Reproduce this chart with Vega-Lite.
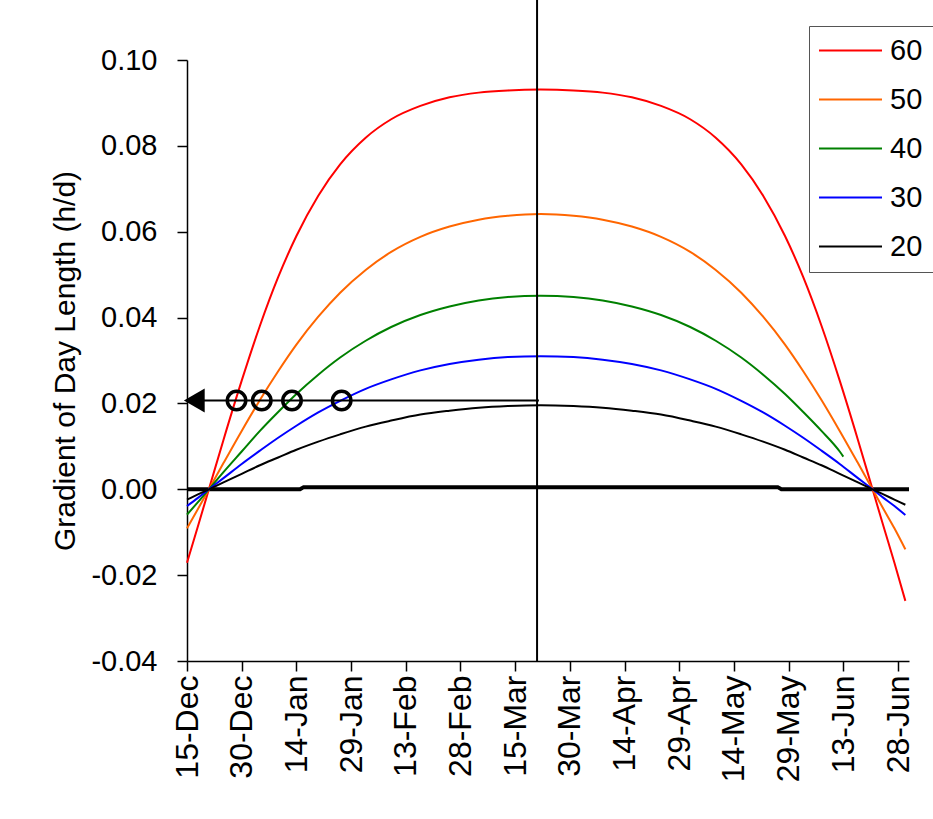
{
  "$schema": "https://vega.github.io/schema/vega-lite/v6.json",
  "width": 722,
  "height": 601,
  "autosize": {"type": "none"},
  "padding": {"left": 187, "top": 60, "right": 24, "bottom": 158},
  "background": "white",
  "config": {
    "view": {"stroke": null},
    "font": "Liberation Sans",
    "axis": {
      "grid": false,
      "domainColor": "black",
      "domainWidth": 1.5,
      "tickColor": "black",
      "tickWidth": 1.5,
      "tickSize": 10,
      "labelColor": "black",
      "labelFont": "Liberation Sans",
      "titleFont": "Liberation Sans",
      "titleColor": "black"
    }
  },
  "datasets": {
    "curves": [
      {"date": "2006-12-15", "lat": "60", "g": -0.0171}, {"date": "2006-12-15", "lat": "50", "g": -0.0091}, {"date": "2006-12-15", "lat": "40", "g": -0.0059}, {"date": "2006-12-15", "lat": "30", "g": -0.0039}, {"date": "2006-12-15", "lat": "20", "g": -0.0024},
      {"date": "2006-12-18", "lat": "60", "g": -0.0086}, {"date": "2006-12-18", "lat": "50", "g": -0.0046}, {"date": "2006-12-18", "lat": "40", "g": -0.0030}, {"date": "2006-12-18", "lat": "30", "g": -0.0020}, {"date": "2006-12-18", "lat": "20", "g": -0.0012},
      {"date": "2006-12-21", "lat": "60", "g": 0}, {"date": "2006-12-21", "lat": "50", "g": 0}, {"date": "2006-12-21", "lat": "40", "g": 0}, {"date": "2006-12-21", "lat": "30", "g": 0}, {"date": "2006-12-21", "lat": "20", "g": 0},
      {"date": "2006-12-25", "lat": "60", "g": 0.0115}, {"date": "2006-12-25", "lat": "50", "g": 0.0061}, {"date": "2006-12-25", "lat": "40", "g": 0.0040}, {"date": "2006-12-25", "lat": "30", "g": 0.0026}, {"date": "2006-12-25", "lat": "20", "g": 0.0016},
      {"date": "2006-12-30", "lat": "60", "g": 0.0253}, {"date": "2006-12-30", "lat": "50", "g": 0.0136}, {"date": "2006-12-30", "lat": "40", "g": 0.0088}, {"date": "2006-12-30", "lat": "30", "g": 0.0059}, {"date": "2006-12-30", "lat": "20", "g": 0.0036},
      {"date": "2007-01-04", "lat": "60", "g": 0.0381}, {"date": "2007-01-04", "lat": "50", "g": 0.0208}, {"date": "2007-01-04", "lat": "40", "g": 0.0136}, {"date": "2007-01-04", "lat": "30", "g": 0.0090}, {"date": "2007-01-04", "lat": "20", "g": 0.0056},
      {"date": "2007-01-09", "lat": "60", "g": 0.0494}, {"date": "2007-01-09", "lat": "50", "g": 0.0275}, {"date": "2007-01-09", "lat": "40", "g": 0.0180}, {"date": "2007-01-09", "lat": "30", "g": 0.0120}, {"date": "2007-01-09", "lat": "20", "g": 0.0074},
      {"date": "2007-01-14", "lat": "60", "g": 0.0590}, {"date": "2007-01-14", "lat": "50", "g": 0.0337}, {"date": "2007-01-14", "lat": "40", "g": 0.0222}, {"date": "2007-01-14", "lat": "30", "g": 0.0148}, {"date": "2007-01-14", "lat": "20", "g": 0.0092},
      {"date": "2007-01-20", "lat": "60", "g": 0.0684}, {"date": "2007-01-20", "lat": "50", "g": 0.0402}, {"date": "2007-01-20", "lat": "40", "g": 0.0267}, {"date": "2007-01-20", "lat": "30", "g": 0.0179}, {"date": "2007-01-20", "lat": "20", "g": 0.0111},
      {"date": "2007-01-26", "lat": "60", "g": 0.0757}, {"date": "2007-01-26", "lat": "50", "g": 0.0458}, {"date": "2007-01-26", "lat": "40", "g": 0.0307}, {"date": "2007-01-26", "lat": "30", "g": 0.0206}, {"date": "2007-01-26", "lat": "20", "g": 0.0128},
      {"date": "2007-02-02", "lat": "60", "g": 0.0819}, {"date": "2007-02-02", "lat": "50", "g": 0.0511}, {"date": "2007-02-02", "lat": "40", "g": 0.0346}, {"date": "2007-02-02", "lat": "30", "g": 0.0234}, {"date": "2007-02-02", "lat": "20", "g": 0.0146},
      {"date": "2007-02-09", "lat": "60", "g": 0.0862}, {"date": "2007-02-09", "lat": "50", "g": 0.0553}, {"date": "2007-02-09", "lat": "40", "g": 0.0378}, {"date": "2007-02-09", "lat": "30", "g": 0.0256}, {"date": "2007-02-09", "lat": "20", "g": 0.0160},
      {"date": "2007-02-17", "lat": "60", "g": 0.0893}, {"date": "2007-02-17", "lat": "50", "g": 0.0588}, {"date": "2007-02-17", "lat": "40", "g": 0.0406}, {"date": "2007-02-17", "lat": "30", "g": 0.0277}, {"date": "2007-02-17", "lat": "20", "g": 0.0174},
      {"date": "2007-02-25", "lat": "60", "g": 0.0913}, {"date": "2007-02-25", "lat": "50", "g": 0.0612}, {"date": "2007-02-25", "lat": "40", "g": 0.0426}, {"date": "2007-02-25", "lat": "30", "g": 0.0292}, {"date": "2007-02-25", "lat": "20", "g": 0.0183},
      {"date": "2007-03-05", "lat": "60", "g": 0.0924}, {"date": "2007-03-05", "lat": "50", "g": 0.0628}, {"date": "2007-03-05", "lat": "40", "g": 0.0440}, {"date": "2007-03-05", "lat": "30", "g": 0.0302}, {"date": "2007-03-05", "lat": "20", "g": 0.0190},
      {"date": "2007-03-13", "lat": "60", "g": 0.0929}, {"date": "2007-03-13", "lat": "50", "g": 0.0637}, {"date": "2007-03-13", "lat": "40", "g": 0.0448}, {"date": "2007-03-13", "lat": "30", "g": 0.0308}, {"date": "2007-03-13", "lat": "20", "g": 0.0194},
      {"date": "2007-03-22", "lat": "60", "g": 0.0931}, {"date": "2007-03-22", "lat": "50", "g": 0.0641}, {"date": "2007-03-22", "lat": "40", "g": 0.0451}, {"date": "2007-03-22", "lat": "30", "g": 0.0310}, {"date": "2007-03-22", "lat": "20", "g": 0.0196},
      {"date": "2007-03-31", "lat": "60", "g": 0.0929}, {"date": "2007-03-31", "lat": "50", "g": 0.0637}, {"date": "2007-03-31", "lat": "40", "g": 0.0448}, {"date": "2007-03-31", "lat": "30", "g": 0.0308}, {"date": "2007-03-31", "lat": "20", "g": 0.0194},
      {"date": "2007-04-08", "lat": "60", "g": 0.0924}, {"date": "2007-04-08", "lat": "50", "g": 0.0628}, {"date": "2007-04-08", "lat": "40", "g": 0.0440}, {"date": "2007-04-08", "lat": "30", "g": 0.0302}, {"date": "2007-04-08", "lat": "20", "g": 0.0190},
      {"date": "2007-04-16", "lat": "60", "g": 0.0913}, {"date": "2007-04-16", "lat": "50", "g": 0.0612}, {"date": "2007-04-16", "lat": "40", "g": 0.0426}, {"date": "2007-04-16", "lat": "30", "g": 0.0292}, {"date": "2007-04-16", "lat": "20", "g": 0.0183},
      {"date": "2007-04-24", "lat": "60", "g": 0.0893}, {"date": "2007-04-24", "lat": "50", "g": 0.0588}, {"date": "2007-04-24", "lat": "40", "g": 0.0406}, {"date": "2007-04-24", "lat": "30", "g": 0.0277}, {"date": "2007-04-24", "lat": "20", "g": 0.0174},
      {"date": "2007-05-02", "lat": "60", "g": 0.0862}, {"date": "2007-05-02", "lat": "50", "g": 0.0553}, {"date": "2007-05-02", "lat": "40", "g": 0.0378}, {"date": "2007-05-02", "lat": "30", "g": 0.0256}, {"date": "2007-05-02", "lat": "20", "g": 0.0160},
      {"date": "2007-05-09", "lat": "60", "g": 0.0819}, {"date": "2007-05-09", "lat": "50", "g": 0.0511}, {"date": "2007-05-09", "lat": "40", "g": 0.0346}, {"date": "2007-05-09", "lat": "30", "g": 0.0234}, {"date": "2007-05-09", "lat": "20", "g": 0.0146},
      {"date": "2007-05-16", "lat": "60", "g": 0.0757}, {"date": "2007-05-16", "lat": "50", "g": 0.0458}, {"date": "2007-05-16", "lat": "40", "g": 0.0307}, {"date": "2007-05-16", "lat": "30", "g": 0.0206}, {"date": "2007-05-16", "lat": "20", "g": 0.0128},
      {"date": "2007-05-22", "lat": "60", "g": 0.0684}, {"date": "2007-05-22", "lat": "50", "g": 0.0402}, {"date": "2007-05-22", "lat": "40", "g": 0.0267}, {"date": "2007-05-22", "lat": "30", "g": 0.0179}, {"date": "2007-05-22", "lat": "20", "g": 0.0111},
      {"date": "2007-05-28", "lat": "60", "g": 0.0590}, {"date": "2007-05-28", "lat": "50", "g": 0.0337}, {"date": "2007-05-28", "lat": "40", "g": 0.0222}, {"date": "2007-05-28", "lat": "30", "g": 0.0148}, {"date": "2007-05-28", "lat": "20", "g": 0.0092},
      {"date": "2007-06-02", "lat": "60", "g": 0.0494}, {"date": "2007-06-02", "lat": "50", "g": 0.0275}, {"date": "2007-06-02", "lat": "40", "g": 0.0180}, {"date": "2007-06-02", "lat": "30", "g": 0.0120}, {"date": "2007-06-02", "lat": "20", "g": 0.0074},
      {"date": "2007-06-07", "lat": "60", "g": 0.0381}, {"date": "2007-06-07", "lat": "50", "g": 0.0208}, {"date": "2007-06-07", "lat": "40", "g": 0.0136}, {"date": "2007-06-07", "lat": "30", "g": 0.0090}, {"date": "2007-06-07", "lat": "20", "g": 0.0056},
      {"date": "2007-06-12", "lat": "60", "g": 0.0253}, {"date": "2007-06-12", "lat": "50", "g": 0.0136}, {"date": "2007-06-12", "lat": "40", "g": 0.0088}, {"date": "2007-06-12", "lat": "30", "g": 0.0059}, {"date": "2007-06-12", "lat": "20", "g": 0.0036},
      {"date": "2007-06-13", "lat": "40", "g": 0.0076},
      {"date": "2007-06-17", "lat": "60", "g": 0.0115}, {"date": "2007-06-17", "lat": "50", "g": 0.0061}, {"date": "2007-06-17", "lat": "30", "g": 0.0026}, {"date": "2007-06-17", "lat": "20", "g": 0.0016},
      {"date": "2007-06-21", "lat": "60", "g": 0}, {"date": "2007-06-21", "lat": "50", "g": 0}, {"date": "2007-06-21", "lat": "30", "g": 0}, {"date": "2007-06-21", "lat": "20", "g": 0},
      {"date": "2007-06-24", "lat": "60", "g": -0.0086}, {"date": "2007-06-24", "lat": "50", "g": -0.0046}, {"date": "2007-06-24", "lat": "30", "g": -0.0020}, {"date": "2007-06-24", "lat": "20", "g": -0.0012},
      {"date": "2007-06-27", "lat": "60", "g": -0.0171}, {"date": "2007-06-27", "lat": "50", "g": -0.0091}, {"date": "2007-06-27", "lat": "30", "g": -0.0039}, {"date": "2007-06-27", "lat": "20", "g": -0.0024},
      {"date": "2007-06-30", "lat": "60", "g": -0.0260}, {"date": "2007-06-30", "lat": "50", "g": -0.0140}, {"date": "2007-06-30", "lat": "30", "g": -0.0060}, {"date": "2007-06-30", "lat": "20", "g": -0.0036}
    ],
    "equator": [
      {"date": "2006-12-15", "g": 0},
      {"date": "2007-01-15", "g": 0},
      {"date": "2007-01-16", "g": 0.0005},
      {"date": "2007-05-26", "g": 0.0005},
      {"date": "2007-05-27", "g": 0},
      {"date": "2007-07-01", "g": 0}
    ],
    "reading": [
      {"date": "2006-12-28T14:00:00Z", "lat": "60", "g": 0.0207},
      {"date": "2007-01-04T12:00:00Z", "lat": "50", "g": 0.0207},
      {"date": "2007-01-12T19:00:00Z", "lat": "40", "g": 0.0207},
      {"date": "2007-01-26T10:00:00Z", "lat": "30", "g": 0.0207}
    ]
  },
  "layer": [
    {
      "data": {"name": "equator"},
      "mark": {"type": "line", "color": "black", "strokeWidth": 4, "strokeCap": "butt"},
      "encoding": {
        "x": {"field": "date", "type": "temporal"},
        "y": {"field": "g", "type": "quantitative"}
      }
    },
    {
      "data": {"name": "curves"},
      "mark": {"type": "line", "strokeWidth": 2, "interpolate": "monotone"},
      "encoding": {
        "x": {
          "field": "date",
          "type": "temporal",
          "scale": {
            "type": "utc",
            "domain": [
              {"year": 2006, "month": 12, "date": 15, "utc": true},
              {"year": 2007, "month": 7, "date": 1, "utc": true}
            ]
          },
          "axis": {
            "title": null,
            "format": "%-d-%b",
            "labelAngle": 270,
            "labelFontSize": 32,
            "labelPadding": 4,
            "labelFlush": false,
            "labelOverlap": false,
            "values": [
              {"year": 2006, "month": 12, "date": 15, "utc": true},
              {"year": 2006, "month": 12, "date": 30, "utc": true},
              {"year": 2007, "month": 1, "date": 14, "utc": true},
              {"year": 2007, "month": 1, "date": 29, "utc": true},
              {"year": 2007, "month": 2, "date": 13, "utc": true},
              {"year": 2007, "month": 2, "date": 28, "utc": true},
              {"year": 2007, "month": 3, "date": 15, "utc": true},
              {"year": 2007, "month": 3, "date": 30, "utc": true},
              {"year": 2007, "month": 4, "date": 14, "utc": true},
              {"year": 2007, "month": 4, "date": 29, "utc": true},
              {"year": 2007, "month": 5, "date": 14, "utc": true},
              {"year": 2007, "month": 5, "date": 29, "utc": true},
              {"year": 2007, "month": 6, "date": 13, "utc": true},
              {"year": 2007, "month": 6, "date": 28, "utc": true}
            ]
          }
        },
        "y": {
          "field": "g",
          "type": "quantitative",
          "scale": {"domain": [-0.04, 0.1], "nice": false, "zero": false},
          "axis": {
            "title": "Gradient of Day Length (h/d)",
            "titleFontSize": 30,
            "titleFontWeight": "normal",
            "titlePadding": 10,
            "format": ".2f",
            "labelExpr": "replace(datum.label, '\u2212', '-')",
            "labelFontSize": 29,
            "labelPadding": 20,
            "values": [-0.04, -0.02, 0, 0.02, 0.04, 0.06, 0.08, 0.1]
          }
        },
        "color": {
          "field": "lat",
          "type": "nominal",
          "scale": {
            "domain": ["60", "50", "40", "30", "20"],
            "range": ["#FF0000", "#FF6600", "#008000", "#0000FF", "#000000"]
          },
          "legend": {
            "title": null,
            "orient": "none",
            "legendX": 622,
            "legendY": -34,
            "symbolType": "M-3,0H3",
            "symbolSize": 441,
            "symbolStrokeWidth": 2,
            "symbolOffset": 17,
            "labelFontSize": 29,
            "labelFont": "Liberation Sans",
            "labelColor": "black",
            "labelOffset": 25,
            "padding": 10,
            "rowPadding": 19,
            "strokeColor": "#555555",
            "fillColor": "white"
          }
        }
      }
    },
    {
      "data": {"values": [{"event": "equinox", "date": "2007-03-21"}]},
      "mark": {"type": "rule", "color": "black", "strokeWidth": 2},
      "encoding": {
        "x": {"field": "date", "type": "temporal"},
        "y": {"datum": -0.04},
        "y2": {"datum": 0.114}
      }
    },
    {
      "data": {"values": [{"event": "reading level", "date": "2006-12-15", "end": "2007-03-21T12:00:00Z"}]},
      "mark": {"type": "rule", "color": "black", "strokeWidth": 2},
      "encoding": {
        "x": {"field": "date", "type": "temporal"},
        "x2": {"field": "end"},
        "y": {"datum": 0.0207}
      }
    },
    {
      "data": {"values": [{"event": "arrow", "date": "2006-12-17", "g": 0.0207}]},
      "mark": {"type": "point", "shape": "triangle-left", "filled": true, "color": "black", "size": 576, "opacity": 1},
      "encoding": {
        "x": {"field": "date", "type": "temporal"},
        "y": {"field": "g", "type": "quantitative"}
      }
    },
    {
      "data": {"name": "reading"},
      "mark": {"type": "point", "shape": "circle", "filled": false, "color": "black", "size": 340, "strokeWidth": 3.5, "opacity": 1},
      "encoding": {
        "x": {"field": "date", "type": "temporal"},
        "y": {"field": "g", "type": "quantitative"}
      }
    }
  ]
}
